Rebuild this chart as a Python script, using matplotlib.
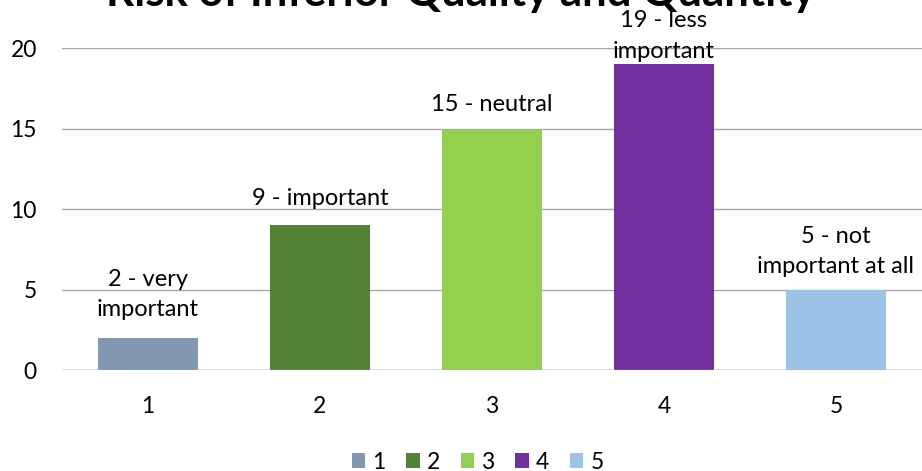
import matplotlib
matplotlib.use("Agg")
import matplotlib.pyplot as plt
from matplotlib.patches import Patch

plt.rcParams["font.family"] = ["Lato", "DejaVu Sans"]

categories = ["1", "2", "3", "4", "5"]
values = [2, 9, 15, 19, 5]
labels = ["2 - very\nimportant", "9 - important", "15 - neutral",
          "19 - less\nimportant", "5 - not\nimportant at all"]
colors = ["#8497B0", "#548235", "#92D050", "#7030A0", "#9DC3E6"]
title = "Risk of Inferior Quality and Quantity"

# label baseline offsets above bar tops (bar 4 is squeezed by the plot top)
label_offsets = [1.35, 1.25, 1.1, 0.4, 1.0]

fig = plt.figure(figsize=(9.22, 4.71), dpi=100)
ax = fig.add_axes([0.0672, 0.2144, 0.9328, 0.6836])

x = list(range(1, len(categories) + 1))
ax.bar(x, values, width=0.58, color=colors, zorder=3)

ax.set_xlim(0.5, 5.5)
ax.set_ylim(0, 20)
ax.set_yticks([0, 5, 10, 15, 20])
ax.set_xticks(x)
ax.set_xticklabels(categories)
ax.tick_params(axis="both", length=0, labelsize=16.5, colors="#000000")
ax.tick_params(axis="x", pad=19)
ax.tick_params(axis="y", pad=18)
ax.grid(axis="y", color="#A6A6A6", linewidth=1.0, zorder=0)
for s in ax.spines.values():
    s.set_visible(False)
ax.axhline(0, color="#A6A6A6", linewidth=1.0, zorder=4)

for xi, v, lab, off in zip(x, values, labels, label_offsets):
    ax.text(xi, v + off, lab, ha="center", va="baseline", fontsize=17,
            linespacing=1.55, zorder=5, clip_on=False)

# title sits partly above the canvas, as in the original export
fig.text(0.5, 0.987, title, ha="center", va="baseline", fontsize=31.5,
         fontweight="bold")

handles = [Patch(facecolor=c) for c in colors]
fig.legend(handles, categories, loc="lower center", ncol=5,
           bbox_to_anchor=(0.518, -0.047), frameon=False, fontsize=16.5,
           handlelength=0.6, handleheight=0.6, handletextpad=0.3,
           columnspacing=0.9)

fig.savefig("out.png", dpi=100)
